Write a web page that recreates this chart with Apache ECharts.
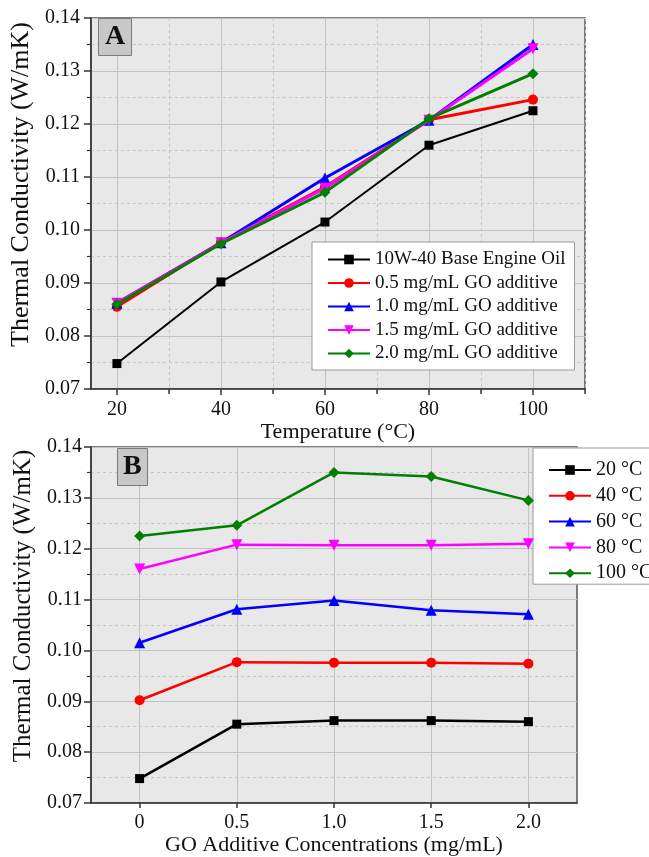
<!DOCTYPE html>
<html><head><meta charset="utf-8">
<script src="https://cdn.jsdelivr.net/npm/echarts@6/dist/echarts.min.js"></script>
<style>html,body{margin:0;padding:0;background:#fff}#c{width:649px;height:857px}</style>
</head><body><div id="c"></div>
<script>
// ---- data ----
const temps = [20, 40, 60, 80, 100];
const concs = [0, 0.5, 1.0, 1.5, 2.0];
const baseOil = [0.0748, 0.0902, 0.1015, 0.1160, 0.1225];
const go05 = [0.0855, 0.0977, 0.1081, 0.1208, 0.1246];
const go10 = [0.0862, 0.0976, 0.1098, 0.1207, 0.1350];
const go15 = [0.0862, 0.0976, 0.1079, 0.1207, 0.1342];
const go20 = [0.0860, 0.0974, 0.1071, 0.1210, 0.1295];
const namesA = ['10W-40 Base Engine Oil', '0.5 mg/mL GO additive', '1.0 mg/mL GO additive', '1.5 mg/mL GO additive', '2.0 mg/mL GO additive'];
const namesB = ['20 °C', '40 °C', '60 °C', '80 °C', '100 °C'];
const xMajorA = [20, 40, 60, 80, 100];
const xMinorA = [30, 50, 70, 90, 110];
const xMajorB = [0, 0.5, 1.0, 1.5, 2.0];

// ---- styles ----
const F = 'Liberation Serif';
const colors = ['#000000', '#ff0000', '#0000ff', '#ff00ff', '#007f00'];
const symbols = ['rect', 'circle', 'triangle', 'path://M0,0L10,0L5,9Z', 'diamond'];
const symSizeA = [9, 10, 11, 11, 11];
const symSizeB = [9, 10, 11, 11, 11];
const lwA = [2, 3, 3, 3, 3];
const lwB = [2.5, 2.5, 2.5, 2.5, 2.5];
const allA = [baseOil, go05, go10, go15, go20];

const axisLineStyle = {color: '#333', width: 1.5};
const labelStyle = {fontFamily: F, fontSize: 20, color: '#111'};

function yAxis(gi, gap, nameSize, margin) {
  return {
    gridIndex: gi, type: 'value', min: 0.07, max: 0.14, interval: 0.01,
    name: 'Thermal Conductivity (W/mK)', nameLocation: 'middle', nameGap: gap,
    nameTextStyle: {fontFamily: F, fontSize: nameSize, color: '#111', padding: [0, 0, 0, 38]},
    axisLine: {show: true, onZero: false, lineStyle: axisLineStyle},
    axisTick: {show: true, inside: false, length: 7, lineStyle: axisLineStyle},
    minorTick: {show: true, splitNumber: 2, length: 4, lineStyle: {color: '#333', width: 1.2}},
    splitLine: {show: true, lineStyle: {color: '#c2c2c2', width: 1}},
    minorSplitLine: {show: true, lineStyle: {color: '#c6c6c6', width: 1, type: [3, 3]}},
    axisLabel: Object.assign({margin: margin, formatter: v => v.toFixed(2)}, labelStyle)
  };
}

const series = [];
allA.forEach((arr, i) => {
  series.push({
    name: namesA[i], type: 'line', xAxisIndex: 0, yAxisIndex: 0,
    data: temps.map((t, k) => [t, arr[k]]),
    symbol: symbols[i], symbolSize: symSizeA[i], showSymbol: true,
    lineStyle: {color: colors[i], width: lwA[i]},
    itemStyle: {color: colors[i]},
    emphasis: {disabled: true}, animation: false, z: 3 + i
  });
});
namesB.forEach((nm, i) => {
  series.push({
    name: nm, type: 'line', xAxisIndex: 2, yAxisIndex: 1,
    data: concs.map((c, j) => [c, allA[j][i]]),
    symbol: symbols[i], symbolSize: symSizeB[i], showSymbol: true,
    lineStyle: {color: colors[i], width: lwB[i]},
    itemStyle: {color: colors[i]},
    emphasis: {disabled: true}, animation: false, z: 3 + i
  });
});

const option = {
  animation: false,
  backgroundColor: '#ffffff',
  title: [
    {text: 'A', left: 98, top: 18, padding: [5, 7, 5, 7], backgroundColor: '#c8c8c8', borderColor: '#7a7a7a', borderWidth: 1,
     textStyle: {fontFamily: F, fontWeight: 'bold', fontSize: 28, color: '#111'}},
    {text: 'B', left: 117, top: 448, padding: [5, 6, 5, 6], backgroundColor: '#c8c8c8', borderColor: '#7a7a7a', borderWidth: 1,
     textStyle: {fontFamily: F, fontWeight: 'bold', fontSize: 28, color: '#111'}}
  ],
  grid: [
    {left: 84, top: 18, width: 501, height: 371, show: true, backgroundColor: '#e8e8e8', borderColor: '#555', borderWidth: 1.5, containLabel: false},
    {left: 91, top: 447, width: 486, height: 356, show: true, backgroundColor: '#e8e8e8', borderColor: '#555', borderWidth: 1.5, containLabel: false}
  ],
  legend: [
    {data: namesA, left: 312, top: 242, orient: 'vertical', itemWidth: 42, itemHeight: 12, itemGap: 4.5,
     padding: [8, 9, 7, 15], backgroundColor: '#ffffff', borderColor: '#999', borderWidth: 1, borderRadius: 0,
     selectedMode: false, textStyle: {fontFamily: F, fontSize: 19, color: '#111'}},
    {data: namesB, left: 533, top: 448, orient: 'vertical', itemWidth: 42, itemHeight: 12, itemGap: 5.8,
     padding: [12, 30, 1, 15], backgroundColor: '#ffffff', borderColor: '#999', borderWidth: 1, borderRadius: 0,
     selectedMode: false, textStyle: {fontFamily: F, fontSize: 20, color: '#111'}}
  ],
  xAxis: [
    {gridIndex: 0, type: 'value', min: 15, max: 110, position: 'bottom',
     name: 'Temperature (°C)', nameLocation: 'middle', nameGap: 32,
     nameTextStyle: {fontFamily: F, fontSize: 22, color: '#111'},
     axisLine: {show: true, onZero: false, lineStyle: axisLineStyle},
     axisTick: {show: true, customValues: xMajorA, length: 6, lineStyle: axisLineStyle},
     axisLabel: Object.assign({customValues: xMajorA, margin: 11}, labelStyle),
     splitLine: {show: true, lineStyle: {color: '#c2c2c2', width: 1}}},
    {gridIndex: 0, type: 'value', min: 15, max: 110, position: 'bottom',
     axisLine: {show: false, onZero: false},
     axisTick: {show: true, customValues: xMinorA, length: 5, lineStyle: axisLineStyle},
     axisLabel: {show: false, customValues: xMinorA},
     splitLine: {show: true, lineStyle: {color: '#c6c6c6', width: 1, type: [3, 3]}}},
    {gridIndex: 1, type: 'value', min: -0.25, max: 2.25, position: 'bottom',
     name: 'GO Additive Concentrations (mg/mL)', nameLocation: 'middle', nameGap: 29,
     nameTextStyle: {fontFamily: F, fontSize: 22, color: '#111'},
     axisLine: {show: true, onZero: false, lineStyle: axisLineStyle},
     axisTick: {show: true, customValues: xMajorB, length: 5, lineStyle: axisLineStyle},
     axisLabel: Object.assign({customValues: xMajorB, margin: 10, formatter: v => v === 0 ? '0' : v.toFixed(1)}, labelStyle),
     splitLine: {show: true, lineStyle: {color: '#c2c2c2', width: 1}}}
  ],
  yAxis: [yAxis(0, 48, 26, 11), yAxis(1, 47, 25, 9)],
  series: series
};

const chart = echarts.init(document.getElementById('c'), null, {renderer: 'canvas'});
chart.setOption(option);
</script></body></html>
